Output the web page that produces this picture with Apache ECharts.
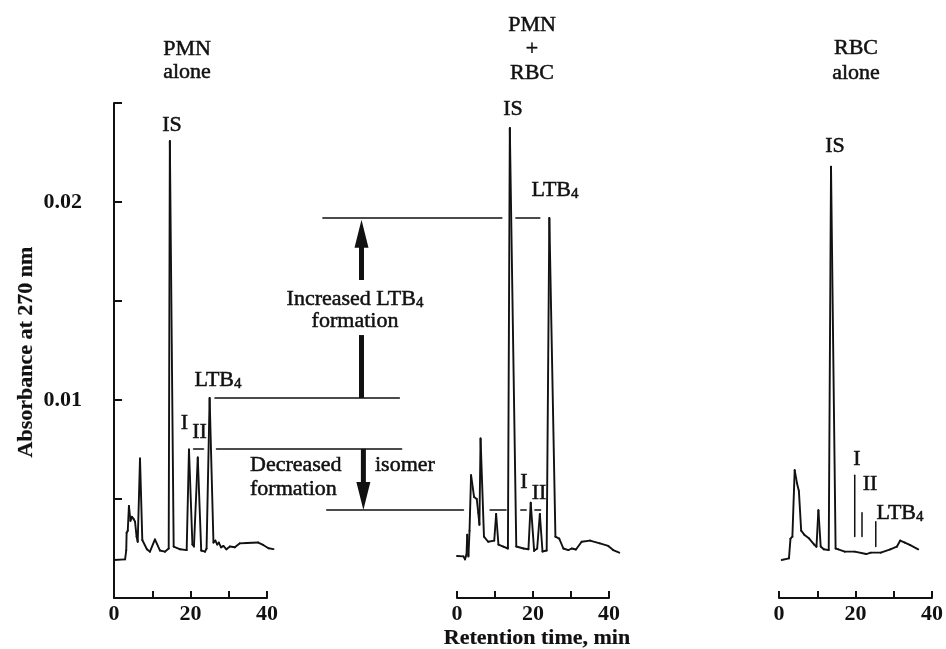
<!DOCTYPE html>
<html><head><meta charset="utf-8">
<script src="https://cdn.jsdelivr.net/npm/echarts@6/dist/echarts.min.js"></script>
<style>html,body{margin:0;padding:0;background:#fff}#c{width:946px;height:649px}</style>
</head><body><div id="c"></div>
<script>
const FONT = '"Liberation Serif", "Times New Roman", Times, serif';
const INK = '#111';

// x tick labels shown (others unlabeled)
const xTickLabels = ['0', '20', '40'];
const yTickLabels = ['0.01', '0.02'];

// Panel 1: PMN alone (retention time, min / absorbance at 270 nm)
const pmnTime = [0, 2.9, 3.2, 3.3, 3.6, 3.9, 4.3, 4.7, 5.1, 5.5, 5.9, 6.2, 6.8, 7.4, 8.6, 9.4, 10.7, 12.0, 13.3, 14.3, 14.6, 15.6, 17.3, 19.0, 19.6, 20.5, 20.9, 21.9, 22.8, 23.8, 24.2, 25.0, 26.0, 26.5, 27.0, 27.4, 28.0, 28.6, 29.4, 30.3, 31.6, 32.9, 34.7, 37.7, 39.0, 40.4, 41.7];
const pmnAbs  = [0.00192, 0.00195, 0.0024, 0.0033, 0.0034, 0.00465, 0.0039, 0.0041, 0.0040, 0.00385, 0.0031, 0.00284, 0.00705, 0.00293, 0.00246, 0.00234, 0.00296, 0.0024, 0.00234, 0.0025, 0.02308, 0.0026, 0.00246, 0.00242, 0.0075, 0.0027, 0.0026, 0.0071, 0.0024, 0.00234, 0.0025, 0.0101, 0.0028, 0.0029, 0.0027, 0.0028, 0.00256, 0.00263, 0.00246, 0.0026, 0.00256, 0.00276, 0.00278, 0.0028, 0.00268, 0.00251, 0.00247];

// Panel 2: PMN + RBC
const mixTime = [0, 1.7, 2.1, 2.5, 2.7, 3.0, 3.3, 3.7, 4.5, 5.2, 5.6, 5.9, 6.2, 7.1, 8.2, 9.8, 10.3, 10.9, 12.2, 13.4, 13.9, 15.6, 17.5, 18.8, 19.4, 20.3, 21.1, 21.8, 22.5, 23.6, 24.3, 25.9, 26.9, 28.0, 29.3, 30.2, 31.3, 32.8, 35.0, 37.6, 39.8, 41.1, 42.7];
const mixAbs  = [0.00212, 0.0021, 0.00195, 0.0022, 0.0032, 0.0021, 0.0034, 0.0062, 0.0051, 0.0050, 0.0043, 0.0037, 0.00806, 0.0031, 0.00284, 0.0029, 0.00424, 0.0027, 0.00259, 0.0025, 0.02374, 0.0026, 0.0025, 0.00246, 0.00481, 0.00238, 0.0025, 0.00424, 0.00235, 0.0024, 0.01919, 0.0031, 0.0030, 0.0025, 0.00242, 0.0025, 0.00245, 0.00284, 0.0029, 0.00276, 0.00263, 0.00242, 0.00229];

// Panel 3: RBC alone
const rbcTime = [0.7, 2.6, 3.0, 3.5, 4.1, 4.7, 5.2, 5.8, 6.6, 7.9, 9.2, 9.8, 10.3, 10.9, 11.7, 13.0, 13.6, 14.8, 15.5, 17.2, 19.8, 22.8, 24.0, 26.6, 29.1, 30.8, 31.7, 32.9, 34.2, 36.4];
const rbcAbs  = [0.00192, 0.0020, 0.0030, 0.0031, 0.00646, 0.0058, 0.0054, 0.0034, 0.0032, 0.0030, 0.0027, 0.00259, 0.00444, 0.0026, 0.00246, 0.00242, 0.02178, 0.0025, 0.00246, 0.00234, 0.00234, 0.00222, 0.00229, 0.00229, 0.00246, 0.00259, 0.0029, 0.0028, 0.00268, 0.00246];

// Expected positions in RBC alone (I, II, LTB4): time, low, high absorbance
const rbcMarkTime = [19.8, 21.7, 25.3];
const rbcMarkLow  = [0.0031, 0.0031, 0.0026];
const rbcMarkHigh = [0.0062, 0.0043, 0.00385];

// Level lines (panel index, absorbance, from time, to time) in that panel's time units
const levelPanel = [1, 1, 0, 0, 0, 1, 1, 1, 1];
const levelAbs   = [0.01919, 0.01919, 0.0101, 0.00753, 0.00753, 0.00444, 0.00444, 0.00444, 0.00444];
const levelFrom  = [-35.3, 15.5, 26.4, 26.8, 20.8, -34.3, 8.7, 16.8, 20.5];
const levelTo    = [11.8, 21.8, 74.6, 75.2, 23.4, 1.7, 12.9, 18.2, 22.0];

// Arrows in panel-1 time units: time, from, to, has head
const arrowTime = [64.7, 64.7, 65.2];
const arrowFrom = [0.0101, 0.01606, 0.00753];
const arrowTo   = [0.01328, 0.0191, 0.00444];
const arrowHead = [0, 1, 1];

// consecutive point pairs -> segments [t0, a0, t1, a1]
const toSegs = (t, a) => t.slice(1).map((v, i) => [t[i], a[i], v, a[i + 1]]);

const grids = [
  {left: 114, width: 153, top: 103, height: 495},
  {left: 457, width: 152, top: 103, height: 495},
  {left: 779, width: 157, top: 103, height: 495}
];

function xAxisFor(gi) {
  return {
    type: 'value', gridIndex: gi, min: 0, max: 40, interval: 10,
    axisLine: {show: true, onZero: false, lineStyle: {color: INK, width: 2}},
    axisTick: {show: true, inside: true, length: 7, lineStyle: {color: INK, width: 2}},
    axisLabel: {
      formatter: v => xTickLabels.includes(String(v)) ? String(v) : '',
      color: INK, fontFamily: FONT, fontSize: 22, fontWeight: 'bold', margin: 5
    },
    splitLine: {show: false}
  };
}
function yAxisFor(gi) {
  const base = {type: 'value', gridIndex: gi, min: 0, max: 0.025, interval: 0.005, splitLine: {show: false}};
  if (gi > 0) return Object.assign(base, {show: false});
  return Object.assign(base, {
    offset: 25,
    axisLine: {show: true, lineStyle: {color: INK, width: 2}},
    axisTick: {show: true, inside: true, length: 8, lineStyle: {color: INK, width: 2}},
    axisLabel: {
      formatter: v => { const s = v.toFixed(2); return (yTickLabels.includes(s) && Math.abs(v - parseFloat(s)) < 1e-9) ? s : ''; },
      color: INK, fontFamily: FONT, fontSize: 22, fontWeight: 'bold', margin: 7
    }
  });
}

function segSeries(gi, segs, w) {
  return {
    type: 'custom', xAxisIndex: gi, yAxisIndex: gi, clip: false, silent: true, animation: false,
    data: segs,
    renderItem: (params, api) => {
      const a = api.coord([api.value(0), api.value(1)]);
      const b = api.coord([api.value(2), api.value(3)]);
      return {type: 'line', shape: {x1: a[0], y1: a[1], x2: b[0], y2: b[1]},
        style: {stroke: INK, lineWidth: w, lineCap: 'round'}};
    }
  };
}

const series = [
  segSeries(0, toSegs(pmnTime, pmnAbs), 1.9),
  segSeries(1, toSegs(mixTime, mixAbs), 1.9),
  segSeries(2, toSegs(rbcTime, rbcAbs), 1.9),
  segSeries(2, rbcMarkTime.map((t, i) => [t, rbcMarkLow[i], t, rbcMarkHigh[i]]), 1.5)
];
[0, 1].forEach(p => {
  const segs = [];
  levelAbs.forEach((a, i) => { if (levelPanel[i] === p) segs.push([levelFrom[i], a, levelTo[i], a]); });
  series.push(segSeries(p, segs, 1.5));
});
series.push({
  type: 'custom', xAxisIndex: 0, yAxisIndex: 0, clip: false, silent: true, animation: false,
  data: arrowTime.map((t, i) => [t, arrowFrom[i], arrowTo[i], arrowHead[i]]),
  renderItem: (params, api) => {
    const p0 = api.coord([api.value(0), api.value(1)]);
    const p1 = api.coord([api.value(0), api.value(2)]);
    const head = api.value(3);
    const dir = p1[1] < p0[1] ? -1 : 1;
    const headLen = 27, headW = 14;
    const endY = head ? p1[1] - dir * headLen : p1[1];
    const children = [{type: 'line', shape: {x1: p0[0], y1: p0[1], x2: p1[0], y2: endY}, style: {stroke: INK, lineWidth: 5}}];
    if (head) children.push({type: 'polygon', shape: {points: [[p1[0], p1[1]], [p1[0] - headW / 2, endY - dir], [p1[0] + headW / 2, endY - dir]]}, style: {fill: INK}});
    return {type: 'group', children};
  }
});

const richSub = {
  b: {fontFamily: FONT, fontSize: 22, lineHeight: 24, fill: INK, verticalAlign: 'middle'},
  s: {fontFamily: FONT, fontSize: 15, lineHeight: 24, fill: INK, verticalAlign: 'bottom'}
};
function txt(text, x, y, opts) {
  opts = opts || {};
  const style = {
    text, fill: INK, font: (opts.bold ? 'bold ' : '') + (opts.size || 22) + 'px ' + FONT,
    align: opts.align || 'center', verticalAlign: 'middle',
    stroke: INK, lineWidth: opts.bold ? 0.2 : 0.5
  };
  if (opts.lh) style.lineHeight = opts.lh;
  if (opts.rich) { style.rich = richSub; }
  return {type: 'text', x, y, rotation: opts.rot || 0, style, silent: true};
}
const LTB = '{b|LTB}{s|4}';

const graphic = [
  txt('PMN\nalone', 187, 61, {lh: 23}),
  txt('PMN\n+\nRBC', 532, 49, {lh: 24}),
  txt('RBC\nalone', 856, 61, {lh: 25}),
  txt('IS', 172, 125), txt('IS', 513, 109), txt('IS', 835, 146),
  txt(LTB, 218, 380, {rich: true}), txt(LTB, 555, 190, {rich: true}), txt(LTB, 900, 513, {rich: true}),
  txt('I', 184.5, 423), txt('II', 199.5, 432),
  txt('I', 524, 482), txt('II', 539, 493),
  txt('I', 857, 459), txt('II', 870, 484),
  txt('{b|Increased LTB}{s|4}', 355, 299, {rich: true}),
  txt('formation', 355, 321),
  txt('Decreased', 250, 465, {align: 'left'}),
  txt('formation', 250, 489, {align: 'left'}),
  txt('isomer', 375, 465, {align: 'left'}),
  txt('Absorbance at 270 nm', 26, 352, {bold: true, rot: Math.PI / 2}),
  txt('Retention time, min', 537, 638, {bold: true})
];

const option = {
  animation: false,
  backgroundColor: '#fff',
  grid: grids,
  xAxis: [0, 1, 2].map(xAxisFor),
  yAxis: [0, 1, 2].map(yAxisFor),
  series,
  graphic
};
const chart = echarts.init(document.getElementById('c'), null, {renderer: 'canvas'});
chart.setOption(option);
if (document.fonts && document.fonts.load) {
  Promise.all([
    document.fonts.load('22px "Liberation Serif"'),
    document.fonts.load('bold 22px "Liberation Serif"')
  ]).then(() => { chart.clear(); chart.setOption(option, true); }).catch(() => {});
}
</script></body></html>
